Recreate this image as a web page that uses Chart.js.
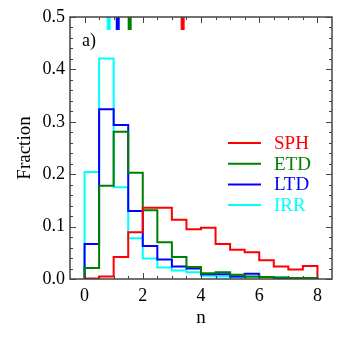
<!DOCTYPE html>
<html>
<head>
<meta charset="utf-8">
<script src="https://cdn.jsdelivr.net/npm/chart.js@4.4.0/dist/chart.umd.min.js"></script>
<style>
  html, body { margin: 0; padding: 0; background: #fff; }
  #wrap { width: 350px; height: 350px; position: relative; }
</style>
</head>
<body>
<div id="wrap"><canvas id="histChart"></canvas></div>
<script>
/* bin edges (width 0.5) and fraction per bin */
var binEdges = [0, 0.5, 1, 1.5, 2, 2.5, 3, 3.5, 4, 4.5, 5, 5.5, 6, 6.5, 7, 7.5, 8];
var sphFrac = [0.001, 0.005, 0.042, 0.089, 0.136, 0.136, 0.113, 0.095, 0.098, 0.067, 0.056, 0.051, 0.036, 0.024, 0.018, 0.025];
var etdFrac = [0.021, 0.178, 0.281, 0.203, 0.131, 0.070, 0.042, 0.023, 0.011, 0.013, 0.008, 0.005, 0.004, 0.003, 0.002, 0.002];
var ltdFrac = [0.067, 0.324, 0.294, 0.130, 0.063, 0.037, 0.024, 0.020, 0.009, 0.009, 0.005, 0.010, 0.004, 0.002, 0.001, 0.001];
var irrFrac = [0.204, 0.421, 0.175, 0.078, 0.039, 0.022, 0.016, 0.013, 0.006, 0.005, 0.004, 0.004, 0.004, 0.003, 0.001, 0.001];

/* median markers along the top edge */
var markTypes  = ['SPH', 'ETD', 'LTD', 'IRR'];
var markValues = [3.37, 1.55, 1.14, 0.83];

var xTicks = [0, 2, 4, 6, 8];
var yTicks = [0, 0.1, 0.2, 0.3, 0.4, 0.5];

var colors = { SPH: '#ff0000', ETD: '#008000', LTD: '#0000ff', IRR: '#00ffff' };
var serif  = "'Liberation Serif', 'DejaVu Serif', serif";
var axisCol = '#444';

function stepPoints(vals) {
  var pts = [{ x: binEdges[0], y: 0 }];
  vals.forEach(function (v, i) { pts.push({ x: binEdges[i], y: v }); });
  pts.push({ x: binEdges[binEdges.length - 1], y: 0 });
  return pts;
}

function histSet(label, vals) {
  return {
    label: label, data: stepPoints(vals), stepped: 'before',
    borderColor: colors[label], borderWidth: 2, pointRadius: 0, fill: false,
    isHist: true
  };
}

var datasets = [
  histSet('SPH', sphFrac),
  histSet('ETD', etdFrac),
  histSet('LTD', ltdFrac),
  histSet('IRR', irrFrac)
];
markTypes.forEach(function (t, i) {
  datasets.push({
    label: t + ' median',
    data: [{ x: markValues[i], y: 0.5 }, { x: markValues[i], y: 0.475 }],
    borderColor: colors[t], borderWidth: 4, pointRadius: 0, borderCapStyle: 'butt'
  });
});

/* inward ticks, frame, legend and panel tag */
var framePlugin = {
  id: 'frame',
  afterDatasetsDraw: function (chart) {
    var ctx = chart.ctx, a = chart.chartArea;
    var xs = chart.scales.x, ys = chart.scales.y;
    ctx.save();
    ctx.strokeStyle = axisCol;
    ctx.lineWidth = 1;
    var v, px, len;
    for (v = 0; v <= 8.001; v += 0.5) {
      px = Math.round(xs.getPixelForValue(v)) + 0.5;
      len = (xTicks.indexOf(Math.round(v * 10) / 10) >= 0) ? 6 : 3;
      ctx.beginPath();
      ctx.moveTo(px, a.bottom); ctx.lineTo(px, a.bottom - len);
      ctx.moveTo(px, a.top); ctx.lineTo(px, a.top + len);
      ctx.stroke();
    }
    for (var k = 0; k <= 25; k++) {
      v = k * 0.02;
      px = Math.round(ys.getPixelForValue(v)) + 0.5;
      len = (k % 5 === 0) ? 6 : 3;
      ctx.beginPath();
      ctx.moveTo(a.left, px); ctx.lineTo(a.left + len, px);
      ctx.moveTo(a.right, px); ctx.lineTo(a.right - len, px);
      ctx.stroke();
    }
    ctx.lineWidth = 1.5;
    ctx.strokeRect(a.left, a.top, a.right - a.left, a.bottom - a.top);

    // legend
    ctx.font = '19px ' + serif;
    ctx.textBaseline = 'middle';
    ctx.textAlign = 'left';
    chart.data.datasets.forEach(function (ds, i) {
      if (!ds.isHist) return;
      var yy = 143 + i * 20.7;
      ctx.strokeStyle = ds.borderColor;
      ctx.lineWidth = 2;
      ctx.beginPath();
      ctx.moveTo(228, yy); ctx.lineTo(261, yy);
      ctx.stroke();
      ctx.fillStyle = ds.borderColor;
      ctx.fillText(ds.label, 274, yy + 1);
    });

    ctx.fillStyle = '#000';
    ctx.font = '18px ' + serif;
    ctx.fillText('a)', a.left + 12, a.top + 24);
    ctx.restore();
  }
};

var chart = new Chart(document.getElementById('histChart'), {
  type: 'line',
  data: { datasets: datasets },
  plugins: [framePlugin],
  options: {
    responsive: true, maintainAspectRatio: false, animation: false,
    layout: { padding: { top: 17, right: 18, left: 0, bottom: 0 } },
    plugins: { legend: { display: false }, tooltip: { enabled: false } },
    scales: {
      x: {
        type: 'linear', min: -0.5, max: 8.5,
        grid: { display: false, drawTicks: false },
        border: { display: false },
        afterBuildTicks: function (s) { s.ticks = xTicks.map(function (t) { return { value: t }; }); },
        afterFit: function (s) { s.height = 71; },
        ticks: { color: '#000', padding: 6, font: { family: serif, size: 18 }, maxRotation: 0 },
        title: { display: true, text: 'n', color: '#000', padding: 21, font: { family: serif, size: 19 } }
      },
      y: {
        min: 0, max: 0.5,
        grid: { display: false, drawTicks: false },
        border: { display: false },
        afterBuildTicks: function (s) { s.ticks = yTicks.map(function (t) { return { value: t }; }); },
        afterFit: function (s) { s.width = 70; },
        ticks: {
          color: '#000', padding: 5, font: { family: serif, size: 18 },
          callback: function (v) { return Number(v).toFixed(1); }
        },
        title: { display: true, text: 'Fraction', color: '#000', padding: 14, font: { family: serif, size: 19 } }
      }
    }
  }
});
</script>
</body>
</html>
